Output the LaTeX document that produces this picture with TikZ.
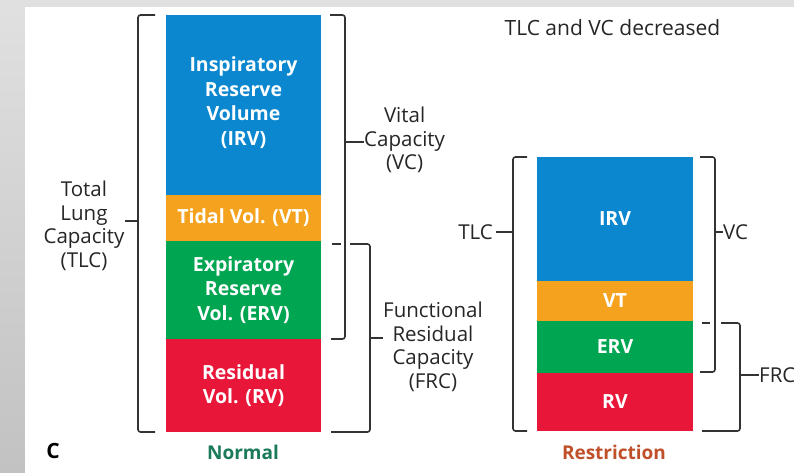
\documentclass[tikz,border=0pt]{standalone}
\usepackage{fontspec}
\setmainfont{Open Sans}
\definecolor{irvblue}{HTML}{0A87CF}
\definecolor{vtorange}{HTML}{F5A21F}
\definecolor{ervgreen}{HTML}{00A552}
\definecolor{rvred}{HTML}{E8173A}
\definecolor{normalc}{HTML}{1A7A5A}
\definecolor{restrc}{HTML}{C0502A}
\definecolor{brkc}{HTML}{333333}
\begin{document}
\begin{tikzpicture}[x=1pt,y=-1pt,
  seg/.style={draw=none, inner sep=0pt, text=white, align=center,
    font=\bfseries\fontsize{19.5}{24.5}\selectfont},
  lbl/.style={inner sep=0pt, align=center, text=black!85,
    font=\fontsize{20.5}{23.5}\selectfont},
  brk/.style={draw=brkc, line width=1.6pt, rounded corners=2.5pt},
  tick/.style={draw=brkc, line width=1.6pt}]
\useasboundingbox (0,0) rectangle (794,472);
% background
\shade[top color=black!12, bottom color=black!24] (0,0) rectangle (794,472);
\fill[white] (25,7) rectangle (800,480);

% ---------- Normal bar ----------
\node[seg, fill=irvblue, minimum width=155pt, minimum height=180pt] (irvN) at (243.5,105)
  {Inspiratory\\Reserve\\Volume\\(IRV)\\[-16.5pt]};
\node[seg, fill=vtorange, minimum width=155pt, minimum height=46pt] (vtN) at (243.5,218)
  {Tidal Vol. (VT)};
\node[seg, fill=ervgreen, minimum width=155pt, minimum height=98pt] (ervN) at (243.5,290)
  {Expiratory\\Reserve\\Vol. (ERV)};
\node[seg, fill=rvred, minimum width=155pt, minimum height=93pt] (rvN) at (243.5,385.5)
  {Residual\\Vol. (RV)};

% brackets normal
\draw[brk] (155,15) -- (138,15) -- (138,432) -- (155,432);
\coordinate (tlcNb) at (138,221);
\node[lbl] (tlcN) at (84,226) {Total\\Lung\\Capacity\\(TLC)};
\draw[tick] (tlcNb) -- (tlcN.east |- tlcNb);

\draw[brk] (330,15) -- (345,15) -- (345,339) -- (331,339);
\coordinate (vcNb) at (345,142);
\node[lbl, anchor=west] (vcN) at (364,140) {Vital\\Capacity\\(VC)};
\draw[tick] (vcNb) -- (vcN.west |- vcNb);

\draw[tick] (332,244) -- (341,244);
\draw[brk] (350,244) -- (370,244) -- (370,432) -- (331,432);
\coordinate (frcNb) at (370,338);
\node[lbl, anchor=west] (frcN) at (383,347) {Functional\\Residual\\Capacity\\(FRC)};
\draw[tick] (frcNb) -- (frcN.west |- frcNb);

% ---------- Restriction bar ----------
\node[seg, fill=irvblue, minimum width=156pt, minimum height=124pt] (irvR) at (615,219) {IRV};
\node[seg, fill=vtorange, minimum width=156pt, minimum height=40pt] (vtR) at (615,301) {VT};
\node[seg, fill=ervgreen, minimum width=156pt, minimum height=52pt] (ervR) at (615,347) {ERV};
\node[seg, fill=rvred, minimum width=156pt, minimum height=58pt] (rvR) at (615,402) {RV};

\draw[brk] (527,157) -- (513,157) -- (513,431) -- (527,431);
\coordinate (tlcRb) at (513,232);
\node[lbl, anchor=east] (tlcR) at (493,232) {TLC};
\draw[tick] (tlcRb) -- ([xshift=3pt]tlcR.east |- tlcRb);

\draw[brk] (700,157) -- (715,157) -- (715,372) -- (700,372);
\coordinate (vcRb) at (715,232);
\node[lbl, anchor=west] (vcR) at (723,232) {VC};
\draw[tick] (vcRb) -- (vcR.west |- vcRb);

\draw[tick] (702,323) -- (710,323);
\draw[brk] (721,323) -- (740,323) -- (740,431) -- (702,431);
\coordinate (frcRb) at (740,375);
\node[lbl, anchor=west] (frcR) at (759,375) {FRC};
\draw[tick] (frcRb) -- (frcR.west |- frcRb);

% titles
\node[lbl, font=\fontsize{21}{24}\selectfont] (title) at (612.5,28) {TLC and VC decreased};
\node[lbl, font=\bfseries\fontsize{21}{24}\selectfont, text=black] (clbl) at (53,451) {C};
\node[lbl, font=\bfseries\fontsize{19}{22}\selectfont, text=normalc] (normal) at (243,452) {Normal};
\node[lbl, font=\bfseries\fontsize{19}{22}\selectfont, text=restrc] (restr) at (614,452) {Restriction};
\end{tikzpicture}
\end{document}
